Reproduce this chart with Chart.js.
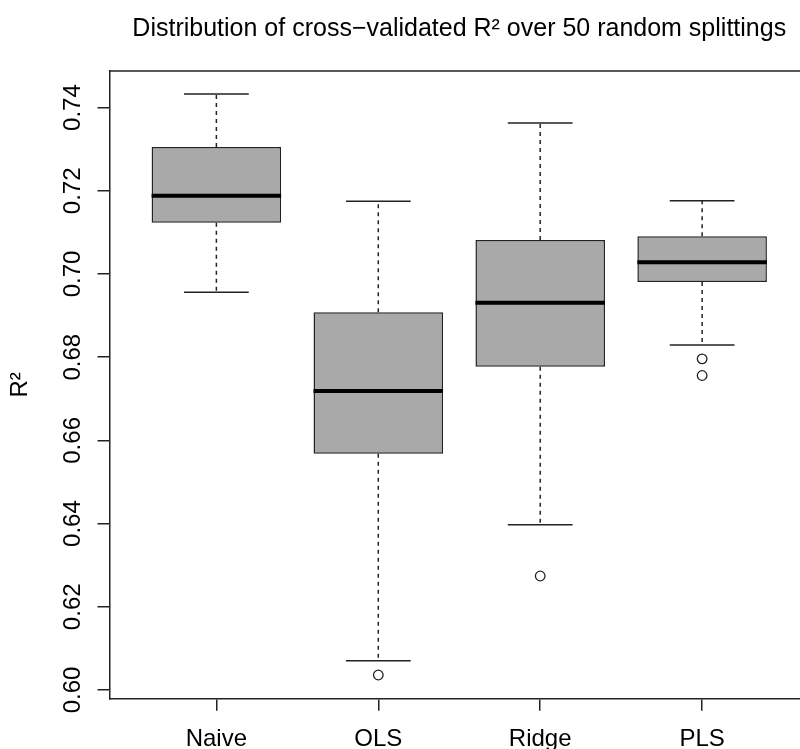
<!DOCTYPE html>
<html>
<head>
<meta charset="utf-8">
<script src="https://cdn.jsdelivr.net/npm/chart.js@4.4.0/dist/chart.umd.min.js"></script>
<style>
html, body { margin: 0; padding: 0; background: #fff; overflow: hidden; width: 800px; height: 749px; }
</style>
</head>
<body>
<!-- plot region runs a little past the right edge of the window, as in the original R figure -->
<canvas id="boxChart" width="809" height="749"></canvas>
<script>
// Cross-validated R^2, 50 random splittings
const methods = ['Naive', 'OLS', 'Ridge', 'PLS'];

const whiskerLow  = [0.6956, 0.6070, 0.6397, 0.6829];
const q1          = [0.7123, 0.6568, 0.6777, 0.6981];
const medians     = [0.7188, 0.6719, 0.6931, 0.7028];
const q3          = [0.7305, 0.6908, 0.7082, 0.7091];
const whiskerHigh = [0.7433, 0.7175, 0.7363, 0.7176];

// outliers: group index (1-based) and value
const outlierGroup = [2, 3, 4, 4];
const outlierValue = [0.6036, 0.6274, 0.6796, 0.6756];

const yTicks = [0.60, 0.62, 0.64, 0.66, 0.68, 0.70, 0.72, 0.74];

const ink = '#222';
const font = { family: "'Liberation Sans', Arial, sans-serif", size: 24 };

// half width (in x units) -> pixels, via the x scale
const halfWidth = units => c => {
    const s = c.chart.scales.x;
    return s.getPixelForValue(1 + units) - s.getPixelForValue(1);
};

// dashed whiskers: box edge to whisker end, broken with nulls
const whiskerPts = [];
methods.forEach((m, i) => {
    whiskerPts.push({ x: i + 1, y: q3[i] }, { x: i + 1, y: whiskerHigh[i] }, { x: i + 1, y: null });
    whiskerPts.push({ x: i + 1, y: q1[i] }, { x: i + 1, y: whiskerLow[i] }, { x: i + 1, y: null });
});

const capPts = [];
methods.forEach((m, i) => {
    capPts.push({ x: i + 1, y: whiskerHigh[i] }, { x: i + 1, y: whiskerLow[i] });
});

// top edge of the plot frame
const frameTop = {
    id: 'frameTop',
    afterDatasetsDraw(chart) {
        const { ctx, chartArea } = chart;
        ctx.save();
        ctx.strokeStyle = ink;
        ctx.lineWidth = 1.5;
        ctx.beginPath();
        ctx.moveTo(chartArea.left, chartArea.top);
        ctx.lineTo(chartArea.right, chartArea.top);
        ctx.stroke();
        ctx.restore();
    }
};

const ctx = document.getElementById('boxChart').getContext('2d');

new Chart(ctx, {
    type: 'bar',
    data: {
        datasets: [
            {
                // median bars
                type: 'scatter',
                data: methods.map((m, i) => ({ x: i + 1, y: medians[i] })),
                pointStyle: 'line',
                pointRadius: halfWidth(0.4),
                borderColor: '#000',
                borderWidth: 4,
                order: 0
            },
            {
                // outliers
                type: 'scatter',
                data: outlierGroup.map((g, i) => ({ x: g, y: outlierValue[i] })),
                pointStyle: 'circle',
                pointRadius: 4.8,
                backgroundColor: '#fff',
                borderColor: ink,
                borderWidth: 1.3,
                order: 1
            },
            {
                // boxes q1..q3
                type: 'bar',
                data: methods.map((m, i) => ({ x: i + 1, y: [q1[i], q3[i]] })),
                backgroundColor: '#a9a9a9',
                borderColor: ink,
                borderWidth: 1.5,
                borderSkipped: false,
                barPercentage: 0.8,
                categoryPercentage: 1,
                order: 2
            },
            {
                // whisker caps
                type: 'scatter',
                data: capPts,
                pointStyle: 'line',
                pointRadius: halfWidth(0.2),
                borderColor: ink,
                borderWidth: 1.5,
                order: 3
            },
            {
                type: 'line',
                data: whiskerPts,
                borderColor: ink,
                borderWidth: 1.5,
                borderDash: [4, 4],
                pointRadius: 0,
                spanGaps: false,
                fill: false,
                order: 4
            }
        ]
    },
    options: {
        responsive: false,
        animation: false,
        events: [],
        layout: { padding: 0, autoPadding: false },
        plugins: {
            legend: { display: false },
            tooltip: { enabled: false },
            title: {
                display: true,
                fullSize: false,
                text: 'Distribution of cross\u2212validated R\u00B2 over 50 random splittings',
                color: '#000',
                font: { family: font.family, size: 25, weight: 'normal' },
                padding: { top: 14, bottom: 27 }
            }
        },
        scales: {
            x: {
                type: 'linear',
                min: 0.34,
                max: 4.66,
                offset: false,
                afterBuildTicks: s => { s.ticks = methods.map((m, i) => ({ value: i + 1 })); },
                afterFit: s => { s.height = 50.3; s.paddingLeft = 0; s.paddingRight = 0; },
                ticks: {
                    callback: v => methods[v - 1],
                    color: '#000',
                    font: font,
                    padding: 14,
                    autoSkip: false,
                    maxRotation: 0
                },
                grid: { display: true, offset: false, drawOnChartArea: false, drawTicks: true, tickLength: 12, color: ink, lineWidth: 1.5 },
                border: { display: true, color: ink, width: 1.5 }
            },
            y: {
                type: 'linear',
                min: 0.5979,
                max: 0.7488,
                beginAtZero: false,
                afterBuildTicks: s => { s.ticks = yTicks.map(v => ({ value: v })); },
                afterFit: s => { s.width = 109.5; s.paddingTop = 0; s.paddingBottom = 0; },
                ticks: {
                    callback: v => v.toFixed(2),
                    color: '#000',
                    font: font,
                    minRotation: 90,
                    maxRotation: 90,
                    crossAlign: 'center',
                    padding: 1
                },
                title: {
                    display: true,
                    text: 'R\u00B2',
                    color: '#000',
                    font: font,
                    padding: { top: 6, bottom: 0 }
                },
                grid: { display: true, drawOnChartArea: false, drawTicks: true, tickLength: 12, color: ink, lineWidth: 1.5 },
                border: { display: true, color: ink, width: 1.5 }
            }
        }
    },
    plugins: [frameTop]
});
</script>
</body>
</html>
